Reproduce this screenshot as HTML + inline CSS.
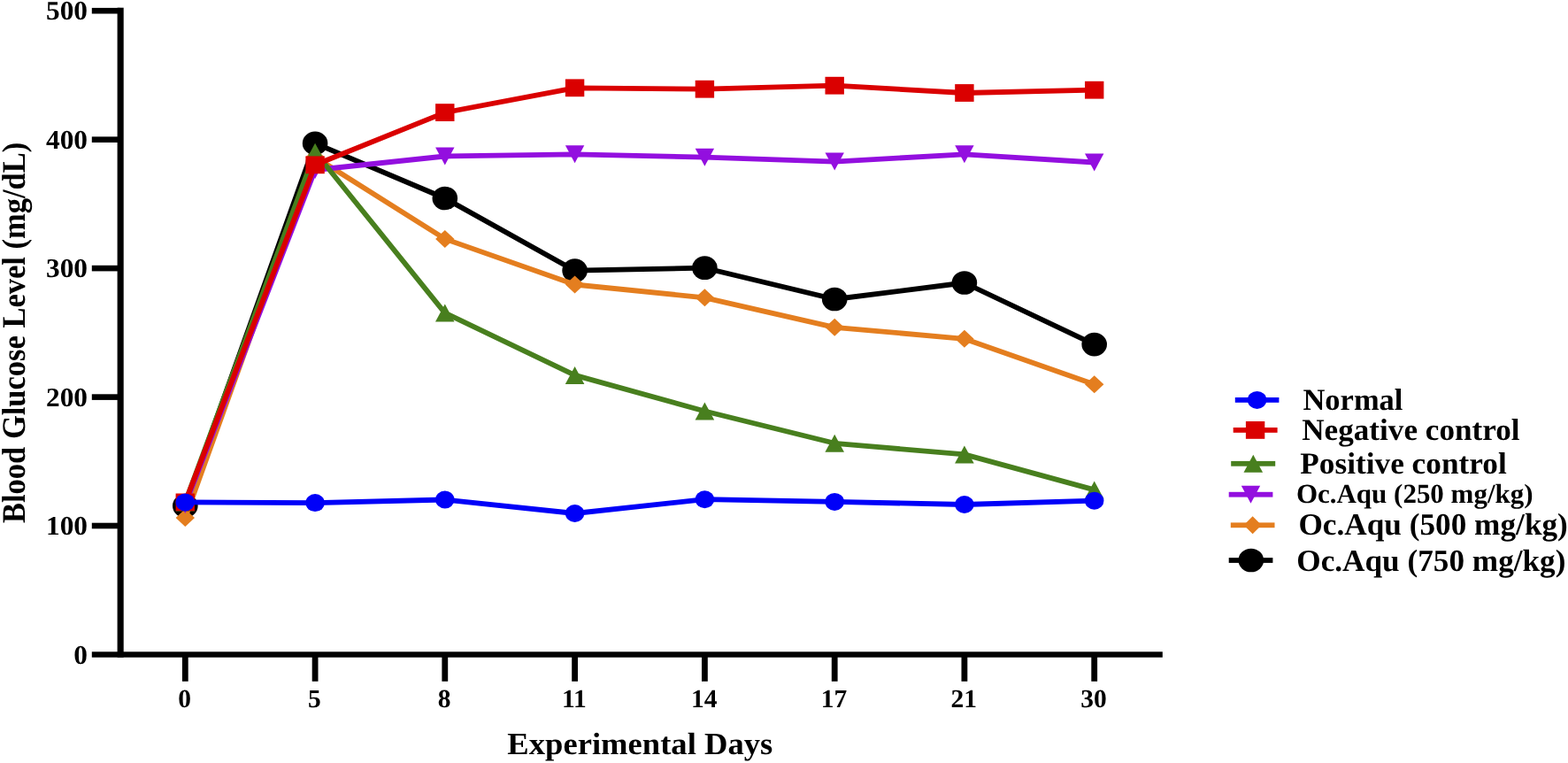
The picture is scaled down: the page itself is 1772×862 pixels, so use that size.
<!DOCTYPE html>
<html><head><meta charset="utf-8"><title>Blood Glucose Level chart</title>
<style>html,body{margin:0;padding:0;background:#fff;overflow:hidden}svg{display:block}</style>
</head><body>
<svg width="1772" height="862" viewBox="0 0 1772 862">
<g fill="#000">
<rect x="132.6" y="8.7" width="7.1" height="734.0"/>
<rect x="103.8" y="736.3" width="1210.0" height="6.4"/>
<rect x="103.8" y="8.9" width="32" height="6.6"/>
<rect x="103.8" y="154.4" width="32" height="6.6"/>
<rect x="103.8" y="299.8" width="32" height="6.6"/>
<rect x="103.8" y="445.3" width="32" height="6.6"/>
<rect x="103.8" y="590.7" width="32" height="6.6"/>
<rect x="205.9" y="739" width="6.8" height="30.8"/>
<rect x="352.7" y="739" width="6.8" height="30.8"/>
<rect x="499.4" y="739" width="6.8" height="30.8"/>
<rect x="646.2" y="739" width="6.8" height="30.8"/>
<rect x="793.0" y="739" width="6.8" height="30.8"/>
<rect x="939.8" y="739" width="6.8" height="30.8"/>
<rect x="1086.5" y="739" width="6.8" height="30.8"/>
<rect x="1233.3" y="739" width="6.8" height="30.8"/>
</g>
<polyline points="209.3,571.5 356.1,161.9 502.8,224.0 649.6,305.7 796.4,302.7 943.2,338.0 1089.9,319.5 1236.7,389.1" fill="none" stroke="#000000" stroke-width="5.8" stroke-linejoin="round"/>
<ellipse cx="209.3" cy="571.5" rx="14.30" ry="13.35" fill="#000000"/>
<ellipse cx="356.1" cy="161.9" rx="14.30" ry="13.35" fill="#000000"/>
<ellipse cx="502.8" cy="224.0" rx="14.30" ry="13.35" fill="#000000"/>
<ellipse cx="649.6" cy="305.7" rx="14.30" ry="13.35" fill="#000000"/>
<ellipse cx="796.4" cy="302.7" rx="14.30" ry="13.35" fill="#000000"/>
<ellipse cx="943.2" cy="338.0" rx="14.30" ry="13.35" fill="#000000"/>
<ellipse cx="1089.9" cy="319.5" rx="14.30" ry="13.35" fill="#000000"/>
<ellipse cx="1236.7" cy="389.1" rx="14.30" ry="13.35" fill="#000000"/>
<polyline points="209.3,585.1 356.1,177.5 502.8,269.9 649.6,321.5 796.4,336.3 943.2,369.8 1089.9,382.8 1236.7,434.2" fill="none" stroke="#E47E1F" stroke-width="5.8" stroke-linejoin="round"/>
<polygon points="209.3,575.1 220.0,585.1 209.3,595.1 198.6,585.1" fill="#E47E1F"/>
<polygon points="356.1,167.5 366.8,177.5 356.1,187.5 345.4,177.5" fill="#E47E1F"/>
<polygon points="502.8,259.9 513.5,269.9 502.8,279.9 492.1,269.9" fill="#E47E1F"/>
<polygon points="649.6,311.5 660.3,321.5 649.6,331.5 638.9,321.5" fill="#E47E1F"/>
<polygon points="796.4,326.3 807.1,336.3 796.4,346.3 785.7,336.3" fill="#E47E1F"/>
<polygon points="943.2,359.8 953.9,369.8 943.2,379.8 932.5,369.8" fill="#E47E1F"/>
<polygon points="1089.9,372.8 1100.6,382.8 1089.9,392.8 1079.2,382.8" fill="#E47E1F"/>
<polygon points="1236.7,424.2 1247.4,434.2 1236.7,444.2 1226.0,434.2" fill="#E47E1F"/>
<polyline points="209.3,570.1 356.1,192.0 502.8,176.5 649.6,174.3 796.4,177.7 943.2,182.6 1089.9,174.3 1236.7,183.5" fill="none" stroke="#930FDF" stroke-width="5.8" stroke-linejoin="round"/>
<polygon points="198.6,560.1 220.0,560.1 209.3,580.1" fill="#930FDF"/>
<polygon points="345.4,182.0 366.8,182.0 356.1,202.0" fill="#930FDF"/>
<polygon points="492.1,166.5 513.5,166.5 502.8,186.5" fill="#930FDF"/>
<polygon points="638.9,164.3 660.3,164.3 649.6,184.3" fill="#930FDF"/>
<polygon points="785.7,167.7 807.1,167.7 796.4,187.7" fill="#930FDF"/>
<polygon points="932.5,172.6 953.9,172.6 943.2,192.6" fill="#930FDF"/>
<polygon points="1079.2,164.3 1100.6,164.3 1089.9,184.3" fill="#930FDF"/>
<polygon points="1226.0,173.5 1247.4,173.5 1236.7,193.5" fill="#930FDF"/>
<polyline points="209.3,567.5 356.1,171.7 502.8,353.6 649.6,423.9 796.4,464.5 943.2,500.8 1089.9,513.4 1236.7,553.4" fill="none" stroke="#487F1E" stroke-width="5.8" stroke-linejoin="round"/>
<polygon points="209.3,557.5 220.1,577.5 198.5,577.5" fill="#487F1E"/>
<polygon points="356.1,161.7 366.9,181.7 345.3,181.7" fill="#487F1E"/>
<polygon points="502.8,343.6 513.6,363.6 492.0,363.6" fill="#487F1E"/>
<polygon points="649.6,413.9 660.4,433.9 638.8,433.9" fill="#487F1E"/>
<polygon points="796.4,454.5 807.2,474.5 785.6,474.5" fill="#487F1E"/>
<polygon points="943.2,490.8 954.0,510.8 932.4,510.8" fill="#487F1E"/>
<polygon points="1089.9,503.4 1100.7,523.4 1079.1,523.4" fill="#487F1E"/>
<polygon points="1236.7,543.4 1247.5,563.4 1225.9,563.4" fill="#487F1E"/>
<polyline points="209.3,567.4 356.1,186.3 502.8,127.1 649.6,99.3 796.4,100.7 943.2,96.7 1089.9,105.0 1236.7,101.7" fill="none" stroke="#DA0000" stroke-width="5.8" stroke-linejoin="round"/>
<rect x="198.6" y="557.5" width="21.4" height="19.8" fill="#DA0000"/>
<rect x="345.4" y="176.4" width="21.4" height="19.8" fill="#DA0000"/>
<rect x="492.1" y="117.2" width="21.4" height="19.8" fill="#DA0000"/>
<rect x="638.9" y="89.4" width="21.4" height="19.8" fill="#DA0000"/>
<rect x="785.7" y="90.8" width="21.4" height="19.8" fill="#DA0000"/>
<rect x="932.5" y="86.8" width="21.4" height="19.8" fill="#DA0000"/>
<rect x="1079.2" y="95.1" width="21.4" height="19.8" fill="#DA0000"/>
<rect x="1226.0" y="91.8" width="21.4" height="19.8" fill="#DA0000"/>
<polyline points="209.3,567.4 356.1,568.1 502.8,564.5 649.6,580.0 796.4,564.2 943.2,566.9 1089.9,570.0 1236.7,565.7" fill="none" stroke="#0000F8" stroke-width="5.8" stroke-linejoin="round"/>
<ellipse cx="209.3" cy="567.4" rx="10.75" ry="10.00" fill="#0000F8"/>
<ellipse cx="356.1" cy="568.1" rx="10.75" ry="10.00" fill="#0000F8"/>
<ellipse cx="502.8" cy="564.5" rx="10.75" ry="10.00" fill="#0000F8"/>
<ellipse cx="649.6" cy="580.0" rx="10.75" ry="10.00" fill="#0000F8"/>
<ellipse cx="796.4" cy="564.2" rx="10.75" ry="10.00" fill="#0000F8"/>
<ellipse cx="943.2" cy="566.9" rx="10.75" ry="10.00" fill="#0000F8"/>
<ellipse cx="1089.9" cy="570.0" rx="10.75" ry="10.00" fill="#0000F8"/>
<ellipse cx="1236.7" cy="565.7" rx="10.75" ry="10.00" fill="#0000F8"/>
<text transform="translate(99.0,22.3) scale(1.035,1)" text-anchor="end" font-size="30.3" font-family="Liberation Serif, Times New Roman, serif" font-weight="bold" text-rendering="geometricPrecision">500</text>
<text transform="translate(99.0,167.8) scale(1.035,1)" text-anchor="end" font-size="30.3" font-family="Liberation Serif, Times New Roman, serif" font-weight="bold" text-rendering="geometricPrecision">400</text>
<text transform="translate(99.0,313.2) scale(1.035,1)" text-anchor="end" font-size="30.3" font-family="Liberation Serif, Times New Roman, serif" font-weight="bold" text-rendering="geometricPrecision">300</text>
<text transform="translate(99.0,458.7) scale(1.035,1)" text-anchor="end" font-size="30.3" font-family="Liberation Serif, Times New Roman, serif" font-weight="bold" text-rendering="geometricPrecision">200</text>
<text transform="translate(99.0,604.1) scale(1.035,1)" text-anchor="end" font-size="30.3" font-family="Liberation Serif, Times New Roman, serif" font-weight="bold" text-rendering="geometricPrecision">100</text>
<text transform="translate(99.0,749.6) scale(1.035,1)" text-anchor="end" font-size="30.3" font-family="Liberation Serif, Times New Roman, serif" font-weight="bold" text-rendering="geometricPrecision">0</text>
<text transform="translate(208.6,799) scale(1.01,1)" text-anchor="middle" font-size="29.2" font-family="Liberation Serif, Times New Roman, serif" font-weight="bold" text-rendering="geometricPrecision">0</text>
<text transform="translate(355.4,799) scale(1.01,1)" text-anchor="middle" font-size="29.2" font-family="Liberation Serif, Times New Roman, serif" font-weight="bold" text-rendering="geometricPrecision">5</text>
<text transform="translate(502.1,799) scale(1.01,1)" text-anchor="middle" font-size="29.2" font-family="Liberation Serif, Times New Roman, serif" font-weight="bold" text-rendering="geometricPrecision">8</text>
<text transform="translate(648.9,799) scale(1.01,1)" text-anchor="middle" font-size="29.2" font-family="Liberation Serif, Times New Roman, serif" font-weight="bold" text-rendering="geometricPrecision">11</text>
<text transform="translate(795.7,799) scale(1.01,1)" text-anchor="middle" font-size="29.2" font-family="Liberation Serif, Times New Roman, serif" font-weight="bold" text-rendering="geometricPrecision">14</text>
<text transform="translate(942.5,799) scale(1.01,1)" text-anchor="middle" font-size="29.2" font-family="Liberation Serif, Times New Roman, serif" font-weight="bold" text-rendering="geometricPrecision">17</text>
<text transform="translate(1089.2,799) scale(1.01,1)" text-anchor="middle" font-size="29.2" font-family="Liberation Serif, Times New Roman, serif" font-weight="bold" text-rendering="geometricPrecision">21</text>
<text transform="translate(1236.0,799) scale(1.01,1)" text-anchor="middle" font-size="29.2" font-family="Liberation Serif, Times New Roman, serif" font-weight="bold" text-rendering="geometricPrecision">30</text>
<text transform="translate(27.9,591.0) rotate(-90) scale(1,1.081)" font-size="34.5" font-family="Liberation Serif, Times New Roman, serif" font-weight="bold" text-rendering="geometricPrecision">Blood Glucose Level (mg/dL)</text>
<text transform="translate(573.3,851.9) scale(1.046,1)" font-size="35.0" font-family="Liberation Serif, Times New Roman, serif" font-weight="bold" text-rendering="geometricPrecision">Experimental Days</text>
<rect x="1395.8" y="449.0" width="49.6" height="5.8" fill="#0000F8"/>
<ellipse cx="1420.6" cy="451.9" rx="10.75" ry="10.00" fill="#0000F8"/>
<text transform="translate(1472.4,462.9) scale(1.0,1)" font-size="34.5" font-family="Liberation Serif, Times New Roman, serif" font-weight="bold" text-rendering="geometricPrecision">Normal</text>
<rect x="1393.7" y="483.0" width="49.9" height="5.8" fill="#DA0000"/>
<rect x="1407.9" y="476.0" width="21.4" height="19.8" fill="#DA0000"/>
<text transform="translate(1471.2,497.3) scale(1.019,1)" font-size="34.5" font-family="Liberation Serif, Times New Roman, serif" font-weight="bold" text-rendering="geometricPrecision">Negative control</text>
<rect x="1391.2" y="520.9" width="50.0" height="5.8" fill="#487F1E"/>
<polygon points="1416.3,513.8 1427.1,533.8 1405.5,533.8" fill="#487F1E"/>
<text transform="translate(1469.3,535.0) scale(1.022,1)" font-size="34.5" font-family="Liberation Serif, Times New Roman, serif" font-weight="bold" text-rendering="geometricPrecision">Positive control</text>
<rect x="1388.7" y="555.8" width="49.7" height="5.8" fill="#930FDF"/>
<polygon points="1402.8,548.7 1424.2,548.7 1413.5,568.7" fill="#930FDF"/>
<text transform="translate(1464.9,567.9) scale(1.006,1)" font-size="30.8" font-family="Liberation Serif, Times New Roman, serif" font-weight="bold" text-rendering="geometricPrecision">Oc.Aqu (250 mg/kg)</text>
<rect x="1390.8" y="590.4" width="49.7" height="5.8" fill="#E47E1F"/>
<polygon points="1415.6,583.3 1425.6,593.3 1415.6,603.3 1405.6,593.3" fill="#E47E1F"/>
<text transform="translate(1467.4,604.4) scale(1.01,1)" font-size="34.9" font-family="Liberation Serif, Times New Roman, serif" font-weight="bold" text-rendering="geometricPrecision">Oc.Aqu (500 mg/kg)</text>
<rect x="1388.7" y="630.1" width="49.7" height="5.8" fill="#000000"/>
<ellipse cx="1413.8" cy="633.0" rx="14.30" ry="13.35" fill="#000000"/>
<text transform="translate(1465.3,644.6) scale(1.009,1)" font-size="34.9" font-family="Liberation Serif, Times New Roman, serif" font-weight="bold" text-rendering="geometricPrecision">Oc.Aqu (750 mg/kg)</text>
</svg>
</body></html>
